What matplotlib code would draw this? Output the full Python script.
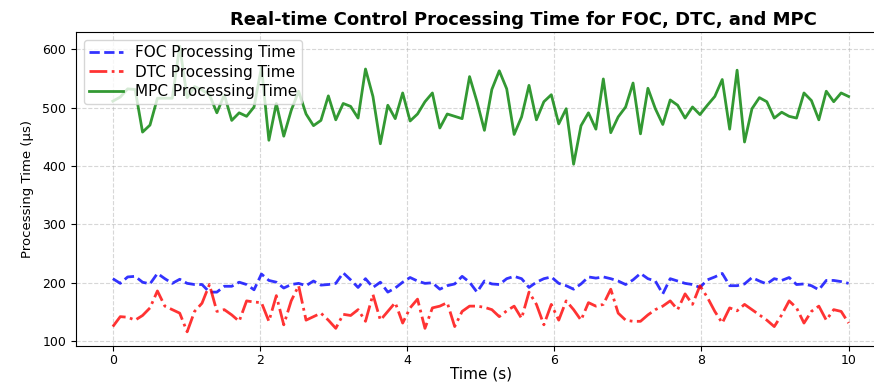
import numpy as np
import matplotlib
matplotlib.use("Agg")
import matplotlib.pyplot as plt

# time axis: 100 samples over 10 s
time_s = np.linspace(0, 10, 100)

foc_us = [207, 199, 210, 211, 201, 198, 216, 207, 199, 206,
          199, 197, 197, 184, 184, 194, 194, 201, 197, 188,
          215, 204, 201, 191, 197, 199, 195, 203, 196, 197,
          199, 217, 205, 192, 207, 192, 201, 184, 191, 201,
          209, 203, 199, 200, 189, 195, 198, 211, 201, 184,
          203, 198, 197, 207, 211, 207, 192, 201, 207, 210,
          199, 195, 189, 198, 210, 208, 210, 207, 203, 197,
          205, 216, 207, 203, 181, 207, 203, 199, 197, 192,
          205, 210, 216, 195, 195, 198, 209, 203, 198, 207,
          204, 209, 197, 198, 195, 188, 204, 204, 202, 199]

dtc_us = [125, 142, 141, 136, 144, 157, 186, 160, 154, 148,
          116, 151, 165, 197, 151, 154, 145, 134, 169, 167,
          166, 134, 178, 128, 169, 195, 136, 142, 148, 136,
          122, 146, 144, 154, 134, 180, 136, 151, 166, 131,
          157, 172, 122, 157, 160, 166, 125, 151, 160, 160,
          158, 154, 142, 152, 160, 139, 184, 163, 128, 163,
          136, 169, 154, 136, 166, 160, 163, 189, 148, 136,
          134, 134, 145, 154, 160, 169, 154, 181, 163, 195,
          175, 151, 131, 157, 152, 163, 154, 145, 136, 125,
          145, 169, 157, 131, 151, 160, 136, 154, 151, 131]

mpc_us = [511, 518, 532, 531, 458, 470, 516, 516, 516, 605,
          517, 536, 530, 522, 491, 522, 478, 491, 485, 501,
          569, 444, 507, 451, 495, 528, 489, 469, 478, 520,
          479, 507, 502, 482, 566, 519, 438, 504, 481, 525,
          477, 489, 510, 525, 465, 489, 485, 481, 553, 510,
          461, 531, 563, 532, 454, 484, 538, 479, 510, 522,
          472, 498, 403, 469, 491, 463, 549, 457, 484, 501,
          542, 455, 533, 498, 471, 513, 504, 482, 501, 488,
          504, 519, 548, 463, 564, 441, 498, 517, 510, 482,
          492, 485, 482, 525, 512, 479, 528, 510, 525, 519]

fig = plt.figure(figsize=(8.74, 3.85), dpi=100)
ax = fig.add_axes([0.087, 0.101, 0.926, 0.816])

ax.plot(time_s, foc_us, 'b--', linewidth=2, alpha=0.8, label='FOC Processing Time')
ax.plot(time_s, dtc_us, 'r-.', linewidth=2, alpha=0.8, label='DTC Processing Time')
ax.plot(time_s, mpc_us, 'g-', linewidth=2, alpha=0.8, label='MPC Processing Time')

ax.set_title('Real-time Control Processing Time for FOC, DTC, and MPC',
             fontsize=13, fontweight='bold', x=0.553, pad=5)
ax.set_xlabel('Time (s)', fontsize=11, labelpad=0)
ax.set_ylabel('Processing Time (µs)', fontsize=9.5, labelpad=6)
ax.set_yticks([100, 200, 300, 400, 500, 600])
ax.tick_params(axis='both', labelsize=9)
ax.tick_params(axis='x', pad=2)
ax.legend(loc='upper left', fontsize=11, labelspacing=0.3,
          handlelength=2.2, borderpad=0.35)
ax.grid(True, linestyle='--', alpha=0.5)

fig.savefig('out.png', dpi=100)
